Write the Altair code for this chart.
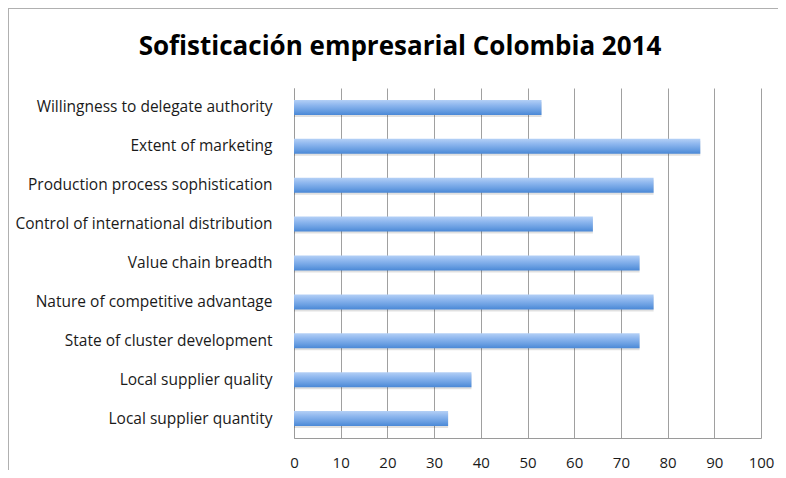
import altair as alt
import pandas as pd

title_text = "Sofisticación empresarial Colombia 2014"
categories = [
    "Willingness to delegate authority",
    "Extent of marketing",
    "Production process sophistication",
    "Control of international distribution",
    "Value chain breadth",
    "Nature of competitive advantage",
    "State of cluster development",
    "Local supplier quality",
    "Local supplier quantity",
]
values = [53, 87, 77, 64, 74, 77, 74, 38, 33]
x_ticks = [0, 10, 20, 30, 40, 50, 60, 70, 80, 90, 100]

df = pd.DataFrame({"category": categories, "value": values})
title_df = pd.DataFrame({"t": [title_text]})

FONT = "Open Sans"

y_enc = alt.Y(
    "category:N",
    sort=None,
    title=None,
    axis=alt.Axis(
        ticks=False,
        domain=True,
        domainColor="#9a9a9a",
        labelPadding=22,
        labelFontSize=15.5,
        labelFont=FONT,
        labelColor="#1a1a1a",
        labelLimit=400,
        grid=False,
    ),
)
x_enc = alt.X(
    "value:Q",
    title=None,
    scale=alt.Scale(domain=[0, 100], nice=False),
    axis=alt.Axis(
        values=x_ticks,
        ticks=False,
        domain=True,
        domainColor="#9a9a9a",
        grid=True,
        gridColor="#a0a0a0",
        gridWidth=1,
        labelPadding=17,
        labelFlush=False,
        labelFontSize=15,
        labelFont=FONT,
        labelColor="#1a1a1a",
    ),
)

gradient = alt.Gradient(
    gradient="linear",
    x1=0, x2=0, y1=0, y2=1,
    stops=[
        alt.GradientStop(color="#b4d0f6", offset=0),
        alt.GradientStop(color="#8db6ee", offset=0.35),
        alt.GradientStop(color="#6a9fe2", offset=0.7),
        alt.GradientStop(color="#4a88d6", offset=1),
    ],
)

shadow = alt.Chart(df).mark_bar(
    size=15, color="#000000", opacity=0.12, yOffset=2, x2Offset=2
).encode(y=y_enc, x=x_enc)

bars = alt.Chart(df).mark_bar(size=15, color=gradient).encode(y=y_enc, x=x_enc)

title_mark = alt.Chart(title_df).mark_text(
    font=FONT, fontSize=26, fontWeight="bold", color="#000000",
    align="center", baseline="middle"
).encode(x=alt.value(106), y=alt.value(-41), text="t:N")

top_border = alt.Chart(title_df).mark_rule(color="#b0b0b0", strokeWidth=1).encode(
    x=alt.value(-286), x2=alt.value(484), y=alt.value(-79.5)
)
left_border = alt.Chart(title_df).mark_rule(color="#b0b0b0", strokeWidth=1).encode(
    x=alt.value(-285.5), y=alt.value(-80), y2=alt.value(382)
)

chart = (
    alt.layer(shadow, bars, title_mark, top_border, left_border)
    .properties(
        width=467,
        height=350,
        autosize=alt.AutoSizeParams(type="none"),
        padding={"left": 286, "top": 80, "right": 17, "bottom": 32},
    )
    .configure_view(stroke=None)
)

chart.save("out.html", embed_options={"renderer": "svg", "actions": False})
